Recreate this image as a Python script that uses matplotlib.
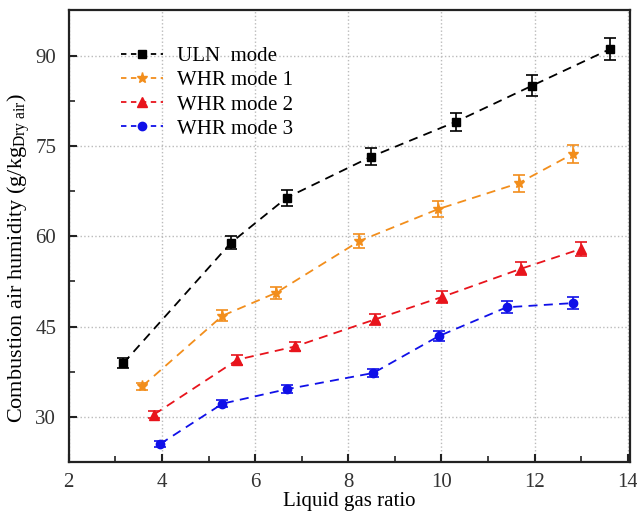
import matplotlib.pyplot as plt
from matplotlib.lines import Line2D
from matplotlib.ticker import MultipleLocator

plt.rcParams['font.family'] = ['Liberation Serif', 'DejaVu Serif']
plt.rcParams['mathtext.fontset'] = 'custom'
plt.rcParams['mathtext.rm'] = 'Liberation Serif'
plt.rcParams['mathtext.it'] = 'Liberation Serif:italic'

# ULN mode
uln_x = [3.17, 5.48, 6.68, 8.49, 10.31, 11.95, 13.63]
uln_y = [38.9, 58.9, 66.4, 73.2, 79.0, 85.0, 91.1]
uln_err = [0.8, 1.1, 1.3, 1.4, 1.5, 1.7, 1.8]

# WHR mode 1
whr1_x = [3.58, 5.30, 6.45, 8.24, 9.93, 11.66, 12.83]
whr1_y = [35.1, 46.8, 50.6, 59.2, 64.5, 68.8, 73.7]
whr1_err = [0.6, 0.9, 1.0, 1.2, 1.3, 1.4, 1.5]

# WHR mode 2
whr2_x = [3.83, 5.62, 6.86, 8.58, 10.01, 11.71, 13.00]
whr2_y = [30.4, 39.5, 41.7, 46.2, 49.9, 54.6, 57.9]
whr2_err = [0.5, 0.8, 0.8, 0.9, 1.0, 1.1, 1.2]

# WHR mode 3
whr3_x = [3.96, 5.30, 6.68, 8.54, 9.94, 11.40, 12.83]
whr3_y = [25.5, 32.2, 34.6, 37.3, 43.4, 48.2, 48.9]
whr3_err = [0.5, 0.6, 0.7, 0.7, 0.8, 1.0, 1.0]

fig = plt.figure(figsize=(6.37, 5.14), dpi=100)
ax = fig.add_axes([0.108, 0.101, 0.881, 0.880])

series = [
    (uln_x, uln_y, uln_err, 'black', 's', 6, 'ULN  mode'),
    (whr1_x, whr1_y, whr1_err, '#F28E1C', '*', 8, 'WHR mode 1'),
    (whr2_x, whr2_y, whr2_err, '#E8141C', '^', 7, 'WHR mode 2'),
    (whr3_x, whr3_y, whr3_err, '#1010E8', 'o', 6, 'WHR mode 3'),
]
handles = []
for x, y, e, c, m, ms, lab in series:
    ax.errorbar(x, y, yerr=e, color=c, marker=m, markersize=ms, linestyle='--',
                linewidth=1.3, dashes=(5, 3.5), capsize=4, elinewidth=1.2,
                capthick=1.2)
    handles.append(Line2D([], [], color=c, marker=m, markersize=ms,
                          linestyle='--', linewidth=1.3, dashes=(3, 2.5),
                          label=lab))

ax.set_xlim(2, 14.05)
ax.set_ylim(22.5, 97.6)
ax.xaxis.set_major_locator(MultipleLocator(2))
ax.xaxis.set_minor_locator(MultipleLocator(1))
ax.yaxis.set_major_locator(MultipleLocator(15))
ax.yaxis.set_minor_locator(MultipleLocator(7.5))
ax.tick_params(which='both', direction='in', labelsize=15, color='#222222',
               labelcolor='#333333')
ax.tick_params(which='major', length=6, width=1.5)
ax.tick_params(which='minor', length=4, width=1.2)
ax.tick_params(axis='y', which='major', pad=9)
ax.tick_params(axis='x', which='major', pad=8)
ax.grid(True, which='major', linestyle=':', color='#bbbbbb', linewidth=1)
for s in ax.spines.values():
    s.set_linewidth(1.6)
    s.set_color('#222222')

ax.set_xlabel('Liquid gas ratio', fontsize=15, labelpad=0)
ax.set_ylabel(r'Combustion air humidity (g/kg$_{\rm Dry\ air}$)', fontsize=16)
ax.yaxis.set_label_coords(-0.066, 0.45)

ax.legend(handles=handles, loc='upper left', bbox_to_anchor=(0.06, 0.96),
          frameon=False, fontsize=15, handlelength=2.0, labelspacing=0.22,
          handletextpad=0.7)

fig.savefig('out.png', dpi=100)
